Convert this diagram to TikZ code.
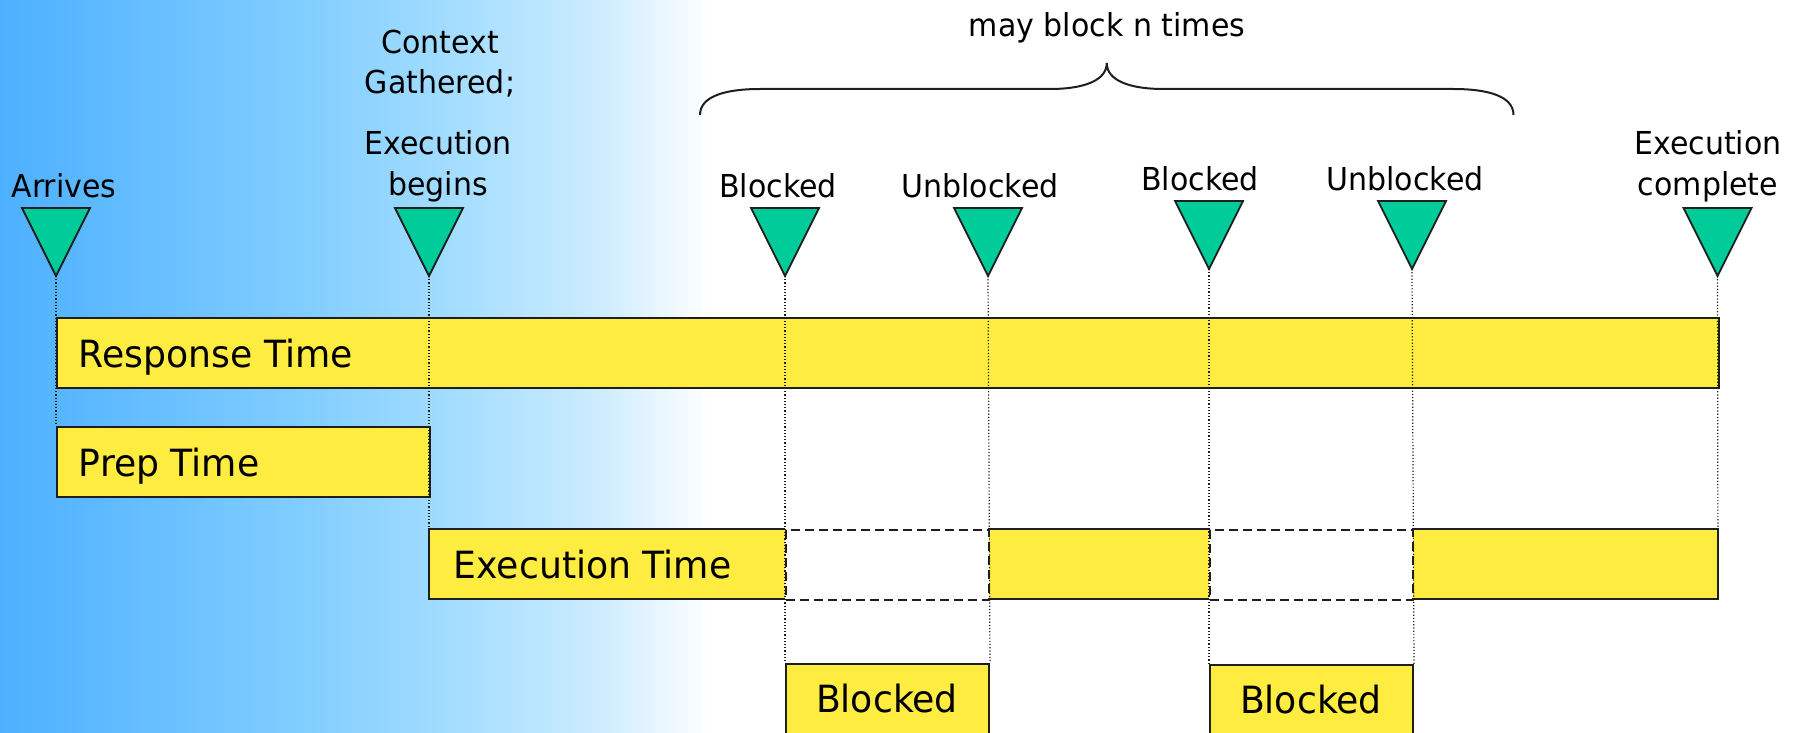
\documentclass[tikz,border=0pt]{standalone}
\usepackage{fontspec}
\setmainfont{DejaVu Sans}[FakeStretch=0.95]
\newfontfamily\barfont{DejaVu Sans}[FakeStretch=0.965]

\definecolor{skyA}{RGB}{77,176,255}
\definecolor{skyB}{RGB}{128,205,255}
\definecolor{skyC}{RGB}{165,222,255}
\definecolor{skyD}{RGB}{205,236,255}
\definecolor{barYellow}{RGB}{255,236,64}
\definecolor{markGreen}{RGB}{0,204,153}
\definecolor{inkGrey}{RGB}{30,30,30}

\begin{document}
\begin{tikzpicture}[x=1pt,y=-1pt,
  lbl/.style={font=\fontsize{31.6}{40}\selectfont, inner sep=0pt, align=center},
  boxtxt/.style={font=\barfont\fontsize{37.5}{45}\selectfont, inner sep=0pt},
  bar/.style={draw=inkGrey, line width=2pt, fill=barYellow, inner sep=0pt, anchor=north west},
  barfill/.style={fill=barYellow, inner sep=0pt, anchor=north west},
  gapbox/.style={draw=inkGrey, line width=2pt, dash pattern=on 9pt off 5pt, fill=white, inner sep=0pt, anchor=north west},
  edge/.style={draw=inkGrey, line width=2pt},
  tick/.style={draw=inkGrey, line width=1.8pt, fill=markGreen, line join=miter},
  guide/.style={draw=inkGrey, line width=1.2pt, dash pattern=on 1.2pt off 2pt},
  brace/.style={draw=inkGrey, line width=2pt}
]
\useasboundingbox (0,0) rectangle (1800,733);

% background fading from blue to white on the left
\shade[left color=skyA, right color=skyB] (0,0) rectangle (300.5,733);
\shade[left color=skyB, right color=skyC] (300,0) rectangle (460.5,733);
\shade[left color=skyC, right color=skyD] (460,0) rectangle (600.5,733);
\shade[left color=skyD, right color=white] (600,0) rectangle (710,733);

% time bars
\node[bar, minimum width=1661.5pt, minimum height=70pt] (resp) at (56,317) {};
\node[boxtxt, anchor=base west] (respL) at (78.6,367) {Response Time};

\node[bar, minimum width=373pt, minimum height=70pt] (prep) at (56,426) {};
\node[boxtxt, anchor=base west] (prepL) at (78.6,476) {Prep Time};

\node[barfill, minimum width=356pt, minimum height=70pt] (exec) at (429,529) {};
\node[barfill, minimum width=221pt, minimum height=70pt] (run2) at (988,529) {};
\node[barfill, minimum width=305.5pt, minimum height=70pt] (run3) at (1412,529) {};
\node[gapbox, minimum width=203pt, minimum height=70pt] (gap1) at (785,529) {};
\node[gapbox, minimum width=203pt, minimum height=70pt] (gap2) at (1209,529) {};
\draw[edge] (exec.north east) -- (exec.north west) -- (exec.south west) -- (exec.south east);
\draw[edge] (run2.north west) -- (run2.north east);
\draw[edge] (run2.south west) -- (run2.south east);
\draw[edge] (run3.north west) -- (run3.north east) -- (run3.south east) -- (run3.south west);
\node[boxtxt, anchor=base west] (execL) at (453.5,578) {Execution Time};

\node[bar, minimum width=203pt, minimum height=85pt] (blk1) at (785,663) {};
\node[boxtxt, anchor=base] (blk1L) at (887,712) {Blocked};
\node[bar, minimum width=203pt, minimum height=85pt] (blk2) at (1209,664) {};
\node[boxtxt, anchor=base] (blk2L) at (1311,713) {Blocked};

% event markers (apex named for the guide lines)
\foreach \nm/\xx/\yy in {arr/56/208, exb/429/208, bl1/785/208, ub1/988/208,
                         bl2/1209/201, ub2/1412/201, exc/1717.5/208}{
  \draw[tick] ({\xx-34},\yy) -- ({\xx+34},\yy) -- (\xx,{\yy+68}) -- cycle;
  \coordinate (\nm) at (\xx,{\yy+68});
}

% guide lines from the markers down to the bars
\draw[guide] (arr) -- (prep.north west);
\draw[guide] (exb) -- (exec.north west);
\draw[guide] (bl1) -- (blk1.north west);
\draw[guide] (ub1) -- (blk1.north east);
\draw[guide] (bl2) -- (blk2.north west);
\draw[guide] (ub2) -- (blk2.north east);
\draw[guide] (exc) -- (run3.north east);

% marker labels (multi-line labels sit on the baseline of their last line)
\node[lbl, anchor=base] (arrL) at (64,197) {Arrives};
\node[lbl, anchor=base] (ctxL) at (440,94) {Context\\Gathered;};
\node[lbl, anchor=base] (exbL) at (438,195) {Execution\\begins};
\node[lbl, anchor=base] (bl1L) at (778,197) {Blocked};
\node[lbl, anchor=base] (ub1L) at (980,197) {Unblocked};
\node[lbl, anchor=base] (bl2L) at (1200,190) {Blocked};
\node[lbl, anchor=base] (ub2L) at (1405,190) {Unblocked};
\node[lbl, anchor=base] (excL) at (1708,195) {Execution\\complete};

% brace over the blocking section
\draw[brace] (700,115) .. controls (700,96) and (726,89) .. (760,89)
  -- (1050,89) .. controls (1085,89) and (1106.75,80) .. (1106.75,63)
  .. controls (1106.75,80) and (1128.5,89) .. (1163.5,89)
  -- (1453.5,89) .. controls (1487.5,89) and (1513.5,96) .. (1513.5,115);
\coordinate (tip) at (1106.75,63);
\node[lbl, anchor=base] (mayL) at (1107,37) {may block n times};
\end{tikzpicture}
\end{document}
